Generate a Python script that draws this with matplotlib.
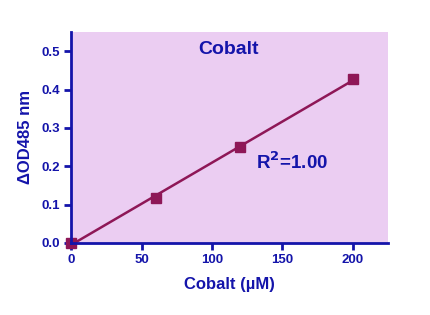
import numpy as np
import matplotlib.pyplot as plt

# Cobalt standard curve
conc = [0, 60, 120, 200]
od = [0.0, 0.117, 0.25, 0.427]

x_ticks = [0, 50, 100, 150, 200]
y_ticks = [0.0, 0.1, 0.2, 0.3, 0.4, 0.5]

blue = '#1414aa'
wine = '#8e1757'
bg = '#ebcdf2'

plt.rcParams['font.family'] = ['Liberation Sans', 'DejaVu Sans']
plt.rcParams['font.weight'] = 'bold'

fig = plt.figure(figsize=(4.31, 3.15), dpi=100)
ax = fig.add_axes([0.165, 0.229, 0.735, 0.669])
ax.set_facecolor(bg)

# linear fit through the points
slope, icpt = np.polyfit(conc, od, 1)
xf = np.array([min(conc), max(conc)])
ax.plot(xf, slope * xf + icpt, color=wine, lw=1.8, zorder=2)
ax.plot(conc, od, 's', color=wine, ms=6.5, zorder=3, clip_on=False)

ax.set_xlim(0, 225)
ax.set_ylim(0, 0.55)
ax.set_xticks(x_ticks)
ax.set_yticks(y_ticks)
ax.set_yticklabels(['%.1f' % v for v in y_ticks])

for s in ['top', 'right']:
    ax.spines[s].set_visible(False)
for s in ['left', 'bottom']:
    ax.spines[s].set_color(blue)
    ax.spines[s].set_linewidth(2)
    ax.spines[s].set_zorder(4)
ax.tick_params(colors=blue, width=2, length=5, labelsize=9.5, pad=3)
for lab in ax.get_xticklabels() + ax.get_yticklabels():
    lab.set_fontweight('bold')

ax.set_xlabel('Cobalt (\u00b5M)', color=blue, fontsize=12, fontweight='bold', labelpad=8)
ax.set_ylabel('\u0394OD485 nm', color=blue, fontsize=12, fontweight='bold', labelpad=6)

ax.text(112, 0.504, 'Cobalt', color=blue, fontsize=14, fontweight='bold',
        ha='center', va='center')
ax.text(131, 0.211, 'R$^\\mathbf{2}$=1.00', color=blue, fontsize=13.5, fontweight='bold',
        ha='left', va='center')

fig.savefig('out.png', dpi=100)
